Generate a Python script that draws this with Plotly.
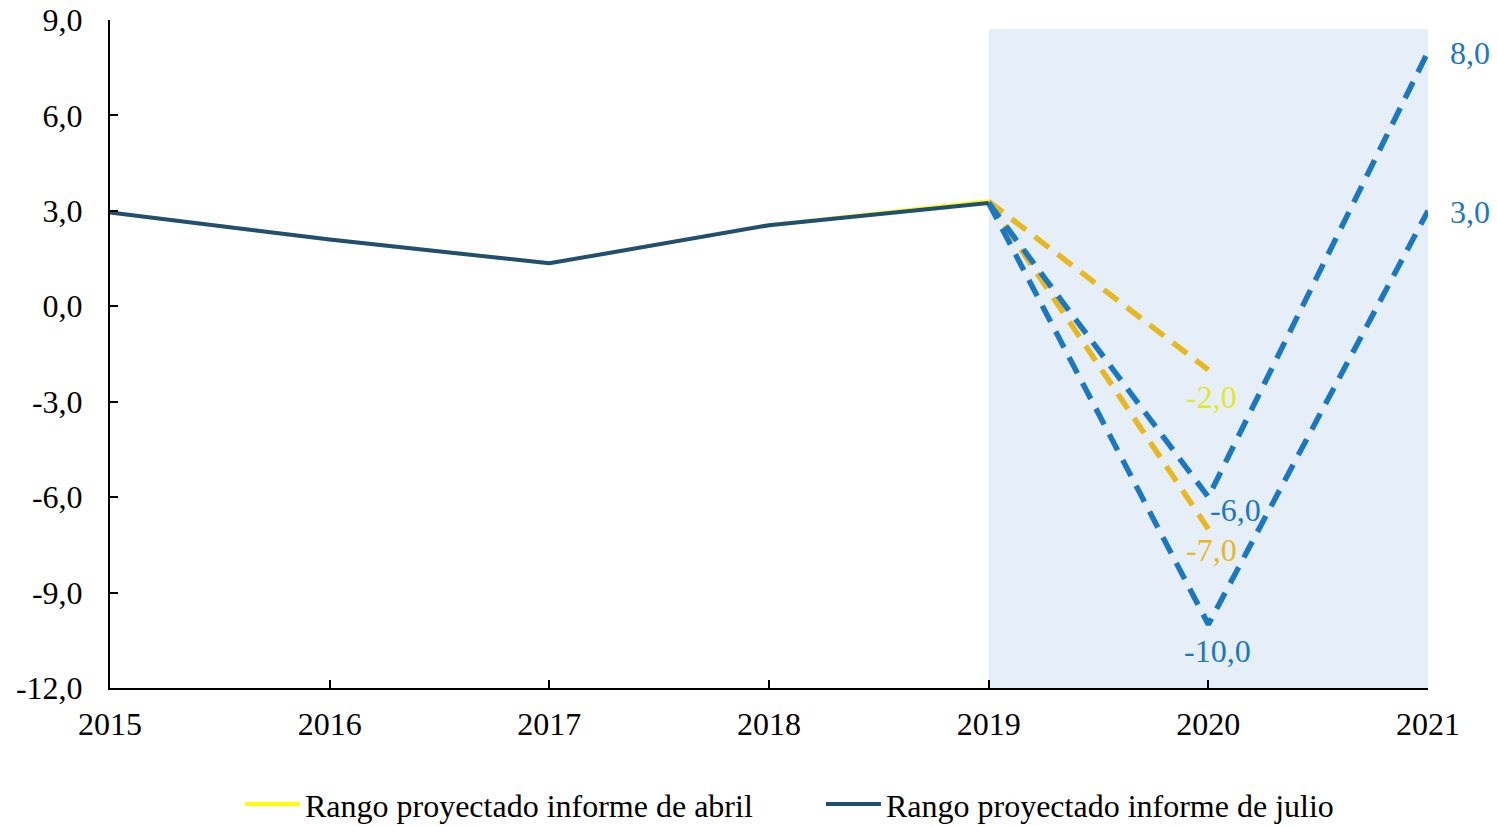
import plotly.graph_objects as go

# Historical growth series and projected ranges
years_hist = [2015, 2016, 2017, 2018, 2019]
abril_hist = [2.95, 2.1, 1.35, 2.55, 3.3]
julio_hist = [2.95, 2.1, 1.35, 2.55, 3.25]

years_abril_proj = [2019, 2020]
abril_alto = [3.3, -2.0]
abril_bajo = [3.3, -7.0]

years_julio_proj = [2019, 2020, 2021]
julio_alto = [3.25, -6.0, 8.0]
julio_bajo = [3.25, -10.0, 3.0]

y_ticks = [-12, -9, -6, -3, 0, 3, 6, 9]
x_ticks = [2015, 2016, 2017, 2018, 2019, 2020, 2021]

FONT = "Liberation Serif, Times New Roman, serif"
YELLOW = "#ffff00"
NAVY = "#1f4e79"
GOLD = "#e8b820"
BLUE = "#1a78c2"
LIME = "#e4e824"
FS = 32


def fmt(v):
    return f"{v:.1f}".replace(".", ",")


fig = go.Figure()

# Projection window shading
fig.add_shape(type="rect", xref="x", yref="y", x0=2019, x1=2021, y0=-12, y1=8.72,
              fillcolor="#e6eef8", line_width=0, layer="below")

dash = "18px,11px"
for yv in (abril_alto, abril_bajo):
    fig.add_trace(go.Scatter(x=years_abril_proj, y=yv, mode="lines", showlegend=False,
                             line=dict(color=GOLD, width=5.5, dash=dash), hoverinfo="skip"))
for yv in (julio_alto, julio_bajo):
    fig.add_trace(go.Scatter(x=years_julio_proj, y=yv, mode="lines", showlegend=False,
                             line=dict(color=BLUE, width=5.5, dash=dash), hoverinfo="skip"))

fig.add_trace(go.Scatter(x=years_hist, y=abril_hist, mode="lines",
                         name="Rango proyectado informe de abril",
                         line=dict(color=YELLOW, width=4)))
fig.add_trace(go.Scatter(x=years_hist, y=julio_hist, mode="lines",
                         name="Rango proyectado informe de julio",
                         line=dict(color=NAVY, width=4)))

# Value labels at the projected points
labels = [
    (2020, abril_alto[1], LIME, 3, -27),
    (2020, abril_bajo[1], GOLD, 3, -21),
    (2020, julio_alto[1], BLUE, 27, -13),
    (2020, julio_bajo[1], BLUE, 9, -27),
    (2021, julio_alto[2], BLUE, 42, -1),
    (2021, julio_bajo[2], BLUE, 42, -1),
]
for x, y, c, xs, ys in labels:
    fig.add_annotation(x=x, y=y, text=fmt(y), showarrow=False, xshift=xs, yshift=ys,
                       font=dict(family=FONT, size=FS, color=c))

fig.update_layout(
    width=1498, height=826,
    margin=dict(l=110, r=70, t=20, b=138, autoexpand=False),
    paper_bgcolor="white", plot_bgcolor="white",
    font=dict(family=FONT, size=FS, color="black"),
    showlegend=True,
    legend=dict(orientation="h", x=0.0986, xanchor="left", y=-0.174, yanchor="middle",
                font=dict(family=FONT, size=FS, color="black"), itemwidth=55,
                entrywidth=511, entrywidthmode="pixels",
                bgcolor="rgba(0,0,0,0)", traceorder="normal"),
)
fig.update_xaxes(range=[2015, 2021], tickvals=x_ticks, ticktext=[str(t) for t in x_ticks],
                 showgrid=False, zeroline=False, showline=True, linecolor="black", linewidth=2,
                 ticks="inside", ticklen=8, tickwidth=2, tickcolor="black", automargin=False,
                 ticklabelstandoff=7,
                 tickfont=dict(family=FONT, size=FS, color="black"))
fig.update_yaxes(range=[-12, 9], tickvals=y_ticks, ticktext=[fmt(t) for t in y_ticks],
                 showgrid=False, zeroline=False, showline=True, linecolor="black", linewidth=2,
                 ticks="inside", ticklen=8, tickwidth=2, tickcolor="black", automargin=False,
                 ticklabelstandoff=19,
                 tickfont=dict(family=FONT, size=FS, color="black"))

fig.write_html("out.html")
